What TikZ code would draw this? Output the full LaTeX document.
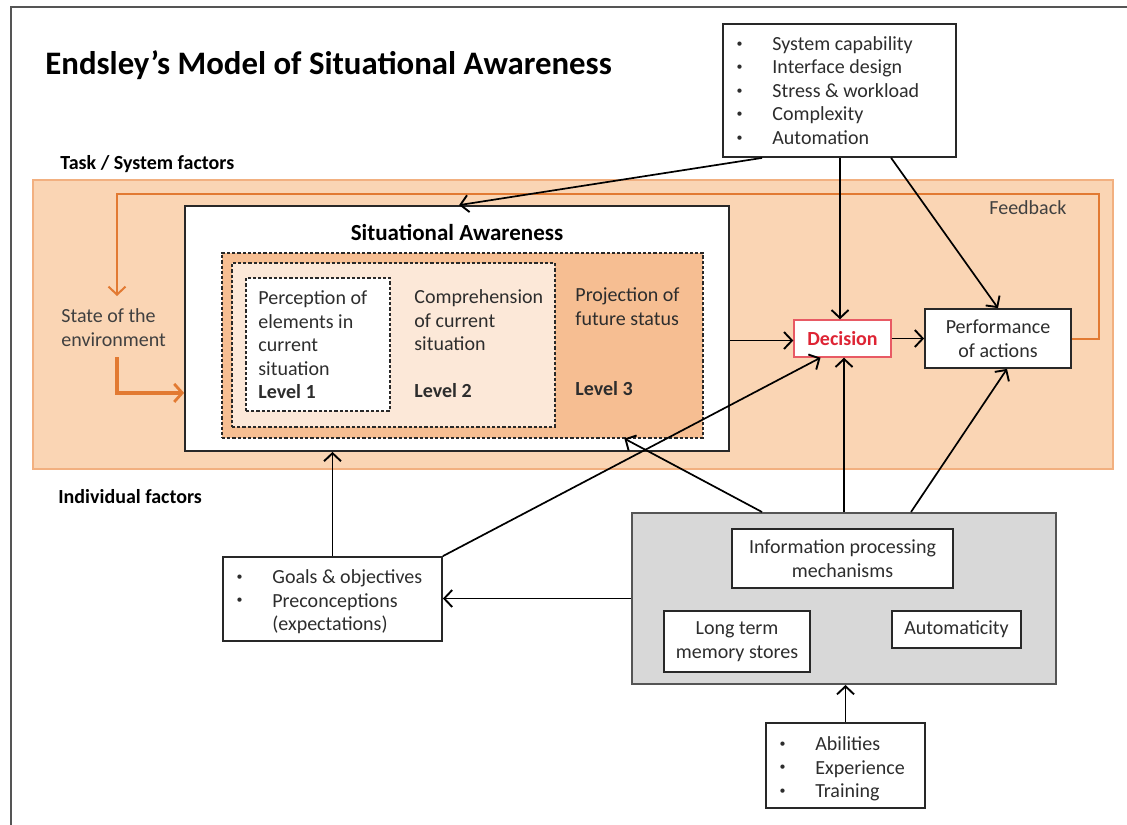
\documentclass[tikz,border=0pt]{standalone}
\usepackage{fontspec}
\setmainfont{Carlito}
\usetikzlibrary{arrows.meta,calc}

\definecolor{bandfill}{RGB}{250,213,180}
\definecolor{bandline}{RGB}{242,176,128}
\definecolor{lvlthree}{RGB}{246,190,146}
\definecolor{lvltwo}{RGB}{252,232,216}
\definecolor{fborange}{RGB}{226,122,50}
\definecolor{graybox}{RGB}{216,216,216}
\definecolor{boxline}{RGB}{40,40,40}
\definecolor{frameline}{RGB}{85,85,85}
\definecolor{txt}{RGB}{45,45,45}
\definecolor{decred}{RGB}{222,36,52}
\definecolor{decline}{RGB}{232,90,100}

% bullet marker followed by a fixed indent
\newcommand{\bulitem}{\makebox[19.5pt][l]{\hspace{1.6pt}\raisebox{0.35ex}{\scalebox{0.6}{\textbullet}}}}
\newcommand{\nobulitem}{\hspace{19.5pt}}

\begin{document}
\begin{tikzpicture}[x=0.5pt,y=-0.5pt,
  every node/.style={font=\fontsize{10}{11.75}\selectfont, text=txt},
  box/.style={draw=boxline, line width=0.9pt, fill=white, inner sep=0pt, align=center},
  dashbox/.style={draw=boxline, line width=0.6pt, dash pattern=on 1.6pt off 1pt, inner sep=0pt},
  listtext/.style={anchor=base west, inner sep=0pt},
  heading/.style={anchor=base west, inner sep=0pt, font=\fontsize{10}{12}\selectfont\bfseries, text=black},
  arr/.style={draw=black, line width=0.85pt, -{Straight Barb[length=4pt,width=8.5pt,line width=0.95pt]}},
  fb/.style={draw=fborange, line width=1pt},
  fbarr/.style={fb, -{Straight Barb[length=4pt,width=8.5pt,line width=1pt]}},
  envarr/.style={draw=fborange, line width=1.6pt, -{Straight Barb[length=4pt,width=9pt,line width=1.4pt]}}
]
\useasboundingbox (0,0) rectangle (1127,824);
\fill[white] (0,0) rectangle (1127,824);

% page frame
\draw[frameline, line width=1pt] (11,830) -- (11,7) -- (1135,7);

% title and section labels
\node[anchor=base west, inner sep=0pt, font=\fontsize{16.4}{19}\selectfont\bfseries, text=black] (title) at (45,75) {Endsley’s Model of Situational Awareness};
\node[heading] (tasklbl) at (60,169) {Task / System factors};
\node[heading] (indlbl) at (58,503) {Individual factors};

% task / system band
\node[draw=bandline, line width=1.4pt, fill=bandfill, minimum width=540pt, minimum height=144.5pt, inner sep=0pt] (band) at (573,324.5) {};

% situational awareness block
\node[box, minimum width=272pt, minimum height=122.5pt] (sa) at (457,328.5) {};
\node[inner sep=0pt, font=\fontsize{11.5}{13}\selectfont\bfseries, text=black] (satitle) at (457,232) {Situational Awareness};
\node[dashbox, fill=lvlthree, minimum width=240.5pt, minimum height=92.5pt] (lvl3) at (462.5,345.5) {};
\node[dashbox, fill=lvltwo, minimum width=161.5pt, minimum height=82pt] (lvl2) at (393.5,345) {};
\node[dashbox, fill=white, minimum width=72pt, minimum height=66.5pt] (lvl1) at (318,344.5) {};

\node[listtext] (lvl1txt) at (258,304.5) {\begin{tabular}[t]{@{}l@{}}Perception of\\elements in\\current\\situation\\\textbf{Level 1}\end{tabular}};
\node[listtext] (lvl2txt) at (414,303.5) {\begin{tabular}[t]{@{}l@{}}Comprehension\\of current\\situation\\\mbox{}\\\textbf{Level 2}\end{tabular}};
\node[listtext] (lvl3txt) at (575,301.5) {\begin{tabular}[t]{@{}l@{}}Projection of\\future status\\\mbox{}\\\mbox{}\\\textbf{Level 3}\end{tabular}};

% environment and feedback
\node[listtext, text=black!75] (env) at (61,322.5) {\begin{tabular}[t]{@{}l@{}}State of the\\environment\end{tabular}};
\node[listtext, text=black!75] (fbtxt) at (989,214.5) {Feedback};

% decision and performance
\node[box, draw=decline, line width=0.7pt, minimum width=48.5pt, minimum height=18.5pt, font=\fontsize{10}{12}\selectfont\bfseries, text=decred] (dec) at (842.5,338.5) {Decision};
\node[box, minimum width=73pt, minimum height=29.5pt] (perf) at (998,338.5) {Performance\\of actions};

% task / system factors list
\node[box, minimum width=116.5pt, minimum height=66.5pt] (task) at (839.5,90.5) {};
\node[listtext] (tasktxt) at (733,50.5) {\begin{tabular}[t]{@{}l@{}}\bulitem System capability\\\bulitem Interface design\\\bulitem Stress \& workload\\\bulitem Complexity\\\bulitem Automation\end{tabular}};

% individual factors
\node[box, minimum width=109.5pt, minimum height=42pt] (goals) at (332.5,599) {};
\node[listtext] (goalstxt) at (233,583.5) {\begin{tabular}[t]{@{}l@{}}\bulitem Goals \& objectives\\\bulitem Preconceptions\\\nobulitem (expectations)\end{tabular}};

\node[draw=frameline, line width=1pt, fill=graybox, minimum width=212pt, minimum height=85.5pt, inner sep=0pt] (gray) at (844,598.5) {};
\node[box, minimum width=110.5pt, minimum height=29.5pt] (info) at (842.5,558.5) {Information processing\\mechanisms};
\node[box, minimum width=73pt, minimum height=30.5pt] (ltm) at (737,641.5) {Long term\\memory stores};
\node[box, minimum width=64.5pt, minimum height=18.5pt] (auto) at (956.5,629.5) {Automaticity};

\node[box, minimum width=79.5pt, minimum height=42.5pt] (abil) at (845.5,765.5) {};
\node[listtext] (abiltxt) at (776,750.5) {\begin{tabular}[t]{@{}l@{}}\bulitem Abilities\\\bulitem Experience\\\bulitem Training\end{tabular}};

% feedback loop and environment input
\coordinate (fbA) at (1099,338.5);
\coordinate (fbB) at (1099,194);
\coordinate (fbC) at (117,194);
\coordinate (fbD) at (117,296);
\draw[fbarr] (perf.east) -- (fbA) -- (fbB) -- (fbC) -- (fbD);
\coordinate (envA) at (117,357);
\coordinate (saIn) at ($(sa.south west)+(0,-59)$);
\draw[envarr] (envA) |- (saIn);

% task / system factor influences
\coordinate (taskDown) at ($(task.south)+(0.5,0)$);
\draw[arr] ($(task.south west)+(40,0)$) -- ($(sa.north west)+(275,0)$);
\draw[arr] (taskDown) -- (taskDown |- dec.north);
\draw[arr] ($(task.south west)+(169,0)$) -- (perf.north);

% main flow
\draw[arr] ($(dec.west -| sa.east)+(0,2)$) -- ($(dec.west)+(0,2)$);
\draw[arr] (dec.east) -- (perf.west);

% individual factor influences
\draw[arr] (goals.north) -- (goals.north |- sa.south);
\draw[arr] (goals.north east) -- ($(dec.south)+(-22,0)$);
\draw[arr] (gray.west) -- (gray.west -| goals.east);
\draw[arr] ($(gray.north west)+(131,0)$) -- ($(lvl3.south west)+(403,0)$);
\draw[arr] (gray.north) -- (gray.north |- dec.south);
\draw[arr] ($(gray.north west)+(280,0)$) -- ($(perf.south)+(9,0)$);
\draw[arr] (abil.north) -- (abil.north |- gray.south);
\end{tikzpicture}
\end{document}
